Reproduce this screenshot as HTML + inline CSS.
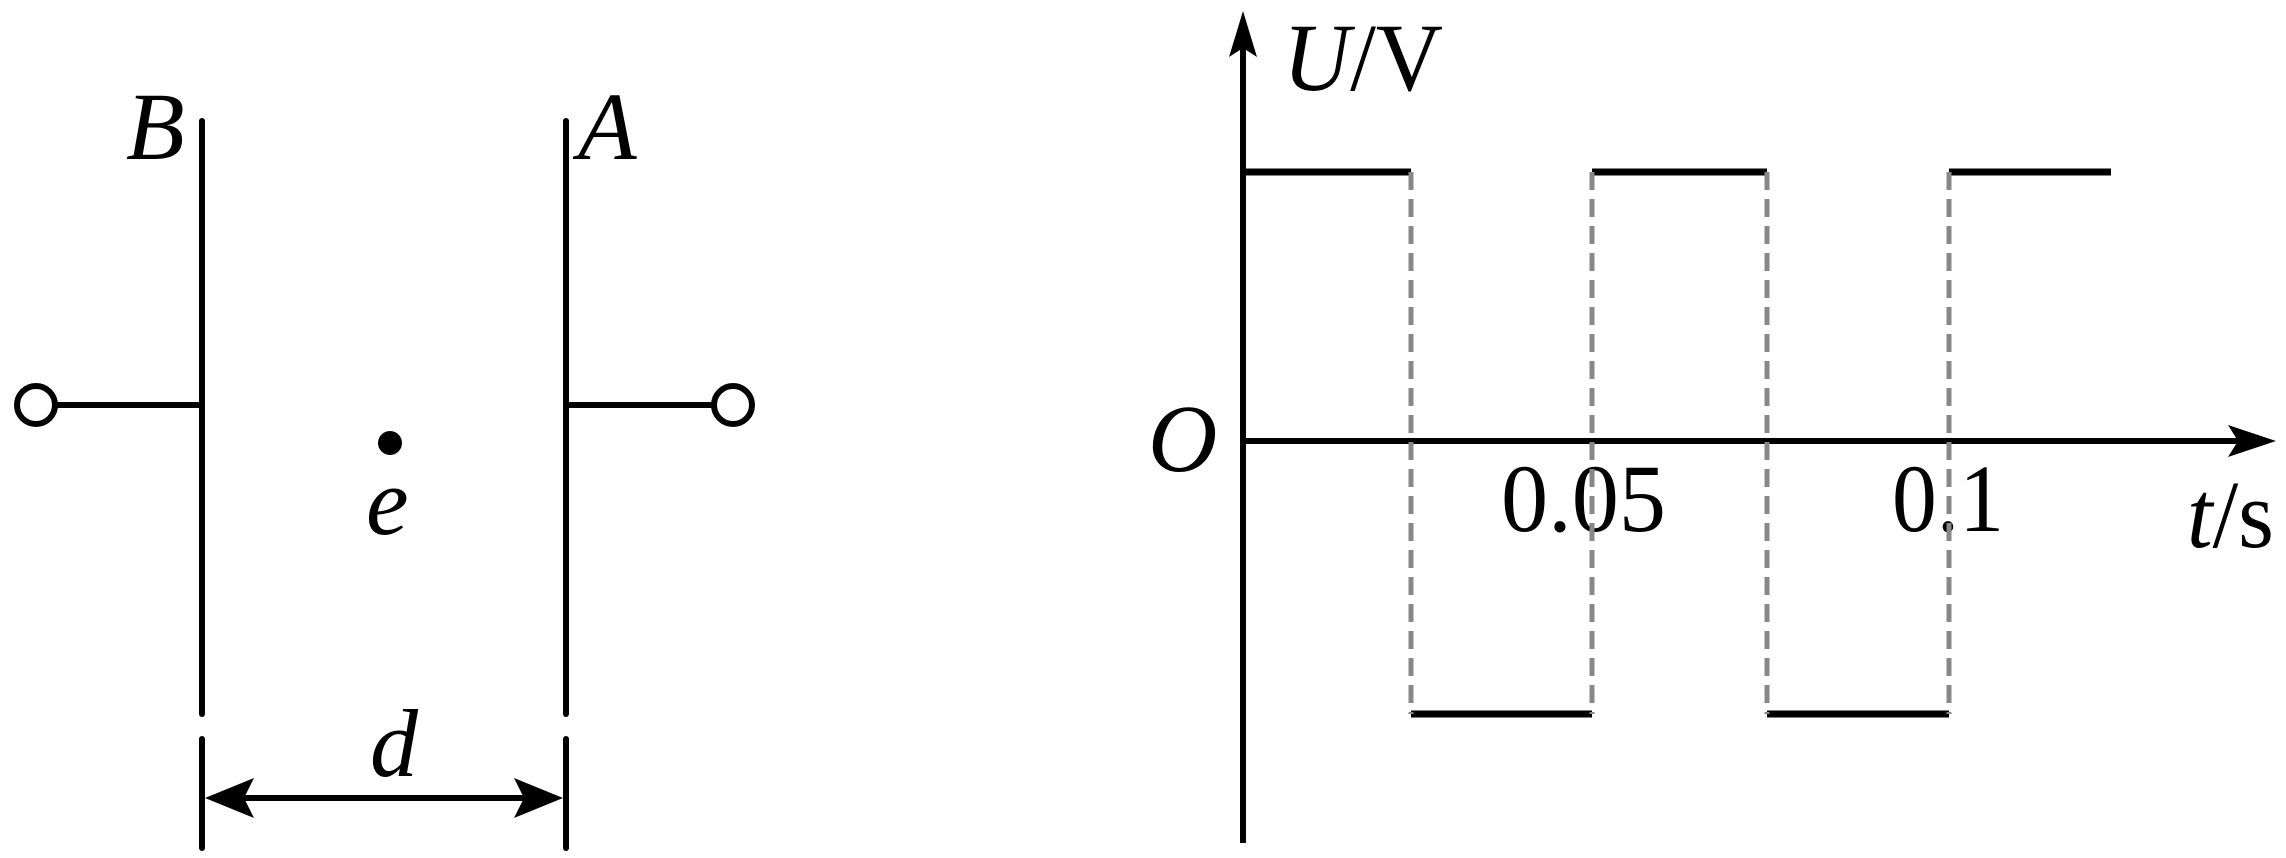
<!DOCTYPE html>
<html><head><style>html,body{margin:0;padding:0;background:#fff;overflow:hidden}svg{display:block}</style></head><body>
<svg width="2286" height="858" viewBox="0 0 2286 858" xmlns="http://www.w3.org/2000/svg">
<g stroke="#000" stroke-width="6" stroke-linecap="round" fill="none">
<line x1="202" y1="121" x2="202" y2="714"/>
<line x1="566" y1="121" x2="566" y2="714"/>
<line x1="56" y1="405" x2="202" y2="405"/>
<line x1="566" y1="405" x2="713" y2="405"/>
<line x1="202" y1="739" x2="202" y2="848"/>
<line x1="566" y1="739" x2="566" y2="848"/>
<line x1="240" y1="798" x2="528" y2="798" stroke-width="6" stroke-linecap="butt"/>
</g>
<circle cx="36" cy="405" r="19" fill="#fff" stroke="#000" stroke-width="6"/>
<circle cx="733" cy="405" r="19" fill="#fff" stroke="#000" stroke-width="6"/>
<circle cx="390" cy="443" r="12" fill="#000"/>
<polygon points="205,798 254,778 244,798 254,818" fill="#000"/>
<polygon points="563,798 514,778 524,798 514,818" fill="#000"/>
<g font-family="Liberation Serif, serif" font-style="italic" font-size="96" fill="#000">
<text x="126" y="159">B</text>
<text x="578" y="159">A</text>
<text x="366" y="534">e</text>
<text x="370" y="776">d</text>
<text x="1148" y="471">O</text>
</g>
<g font-family="Liberation Serif, serif" font-size="96" fill="#000">
<text x="1283" y="90" textLength="160" lengthAdjust="spacingAndGlyphs"><tspan font-style="italic">U</tspan>/V</text>
<text x="1501" y="531" textLength="165" lengthAdjust="spacingAndGlyphs">0.05</text>
<text x="1892" y="531" textLength="112" lengthAdjust="spacingAndGlyphs">0.1</text>
<text x="2187" y="547" textLength="87" lengthAdjust="spacingAndGlyphs"><tspan font-style="italic">t</tspan>/s</text>
</g>
<g stroke="#000" stroke-width="6" fill="none">
<line x1="1243" y1="40" x2="1243" y2="843"/>
<line x1="1243" y1="441" x2="2240" y2="441"/>
<line x1="1243" y1="172" x2="1411" y2="172" stroke-width="7"/>
<line x1="1411" y1="714" x2="1592" y2="714" stroke-width="7"/>
<line x1="1592" y1="172" x2="1767" y2="172" stroke-width="7"/>
<line x1="1767" y1="714" x2="1949" y2="714" stroke-width="7"/>
<line x1="1949" y1="172" x2="2111" y2="172" stroke-width="7"/>
</g>
<polygon points="1243,11 1229,57 1243,48 1257,57" fill="#000"/>
<polygon points="2276,441 2228,425 2238,441 2228,457" fill="#000"/>
<g stroke="#888" stroke-width="5" stroke-dasharray="18 9" fill="none">
<line x1="1411" y1="172" x2="1411" y2="714"/>
<line x1="1592" y1="172" x2="1592" y2="714"/>
<line x1="1767" y1="172" x2="1767" y2="714"/>
<line x1="1949" y1="172" x2="1949" y2="714"/>
</g>
</svg>
</body></html>
